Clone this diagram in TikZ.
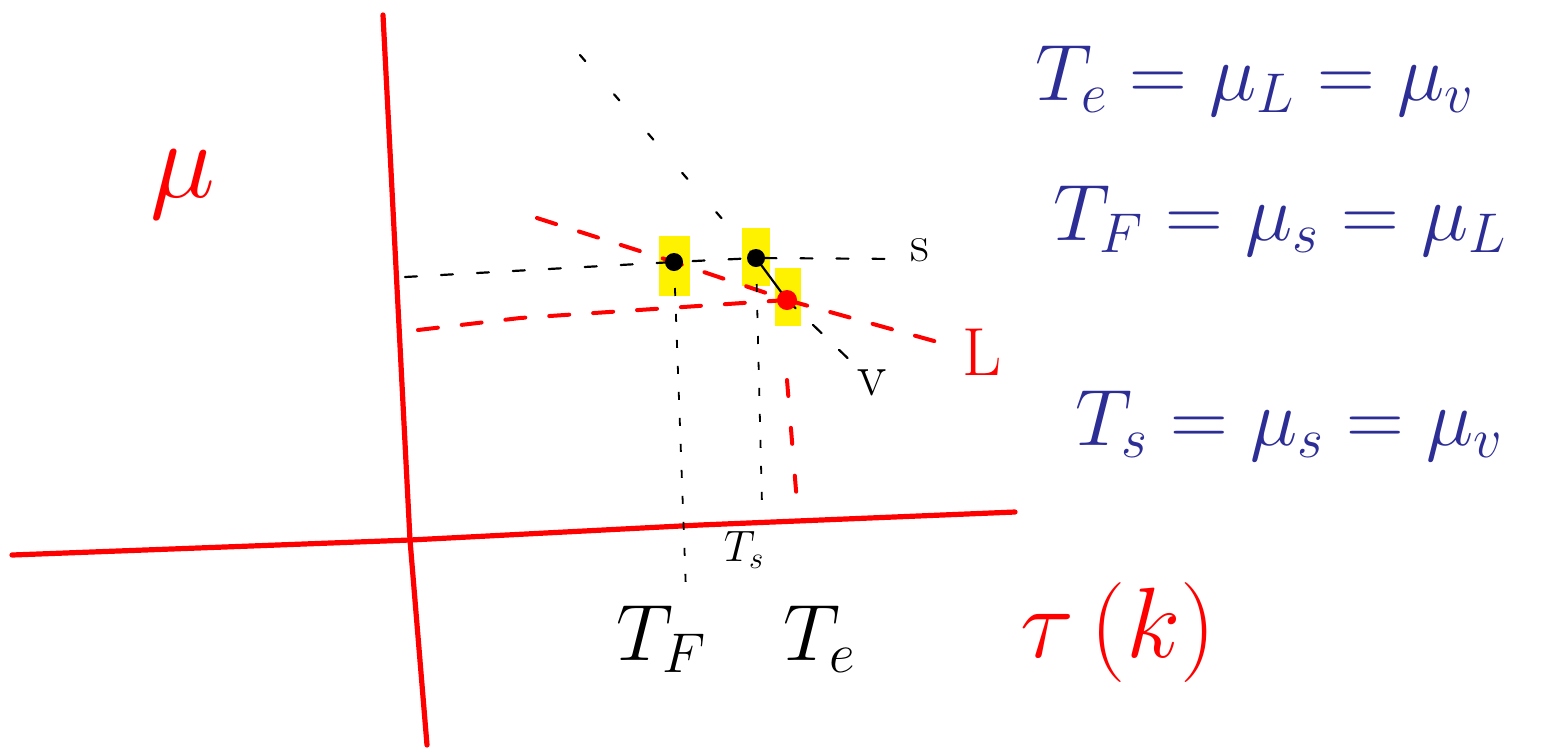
\documentclass[tikz,border=0pt]{standalone}
\usepackage{fix-cm}
\usepackage{amsmath,amssymb}
\usetikzlibrary{positioning}

\definecolor{ink}{RGB}{45,45,150}
\tikzset{
  axis/.style={red, line width=2.6pt, line cap=round},
  redphase/.style={red, line width=2pt, line cap=round, dash pattern=on 10pt off 12pt},
  blackphase/.style={black, line width=1.1pt, line cap=round, dash pattern=on 6pt off 12pt},
  dropline/.style={black, line width=0.9pt, dash pattern=on 4pt off 9pt},
  hilite/.style={fill=yellow, draw=none},
  bigtext/.style={font=\fontsize{40}{48}\selectfont},
}

\begin{document}
\begin{tikzpicture}[x=0.5pt, y=-0.5pt]
    \useasboundingbox (0,0) rectangle (1548,752);

    % axes
    \coordinate (ytop) at (383,15);
    \coordinate (ybot) at (427,745);
    \coordinate (xleft) at (12,555);
    \coordinate (xright) at (1015,512);
    \draw[axis] (ytop) -- (410,540) -- (ybot);
    \draw[axis] (xleft) -- (410,540) -- (700,525) -- (xright);
    \node[red, font=\fontsize{55}{60}\selectfont] (mulabel) at (183,185) {$\mu$};
    \node[red, font=\fontsize{50}{60}\selectfont] (taulabel) at (1118,632) {$\tau\,(k)$};

    % equilibrium points
    \fill[hilite] (659,236) rectangle (690,296);
    \fill[hilite] (742,228) rectangle (770,286);
    \fill[hilite] (775,268) rectangle (801,326);
    \coordinate (tf) at (674,262);
    \coordinate (ts) at (756,258);
    \coordinate (te) at (787,300);

    % solid phase S
    \coordinate (sleft) at (405,277);
    \coordinate (sright) at (900,259);
    \draw[blackphase] (sleft) -- (tf) -- (ts) -- (sright);
    \node[font=\fontsize{26}{30}\selectfont] (lblS) at (920,250) {s};

    % vapour phase V
    \coordinate (vtop) at (580,55);
    \coordinate (vend) at (858,368);
    \draw[blackphase, dash pattern=on 4pt off 22pt] (vtop) -- (ts);
    \draw[black, line width=1.1pt] (ts) -- (te);
    \draw[blackphase] (te) -- (vend);
    \node[font=\fontsize{30}{34}\selectfont] (lblV) at (872,383) {v};

    % liquid phase L
    \coordinate (lleft) at (537,218);
    \coordinate (lright) at (952,346);
    \draw[redphase] (lleft) -- (tf) -- (te) -- (lright);
    \node[red, font=\fontsize{34}{38}\selectfont] (lblL) at (982,352) {L};
    \coordinate (muleft) at (418,330);
    \draw[redphase] (muleft) -- (520,318) -- (te);
    \coordinate (tebot) at (798,515);
    \draw[redphase, dash pattern=on 8pt off 16pt] ([yshift=-40pt]te) -- (tebot);

    % drop lines
    \coordinate (tfbot) at (686,592);
    \coordinate (tsbot) at (762,505);
    \draw[dropline] (tf) -- (tfbot);
    \draw[dropline] (ts) -- (tsbot);
    \node[font=\fontsize{22}{26}\selectfont] (lblTs) at (744,550) {$T_s$};
    \node[bigtext, anchor=base] (lblTF) at (662,660) {$T_F$};
    \node[bigtext, anchor=base] (lblTe) at (820,660) {$T_e$};

    % conditions
    \node[ink, bigtext, anchor=base west, inner sep=0pt] (eqTe) at (1035,100) {$T_e = \mu_L = \mu_v$};
    \node[ink, bigtext, anchor=base west, inner sep=0pt] (eqTF) at (1053,240) {$T_F = \mu_s = \mu_L$};
    \node[ink, bigtext, anchor=base west, inner sep=0pt] (eqTs) at (1075,445) {$T_s = \mu_s = \mu_v$};

    \fill[black] (tf) circle (4.5pt) (ts) circle (4.5pt);
    \fill[red] (te) circle (5pt);
\end{tikzpicture}
\end{document}
